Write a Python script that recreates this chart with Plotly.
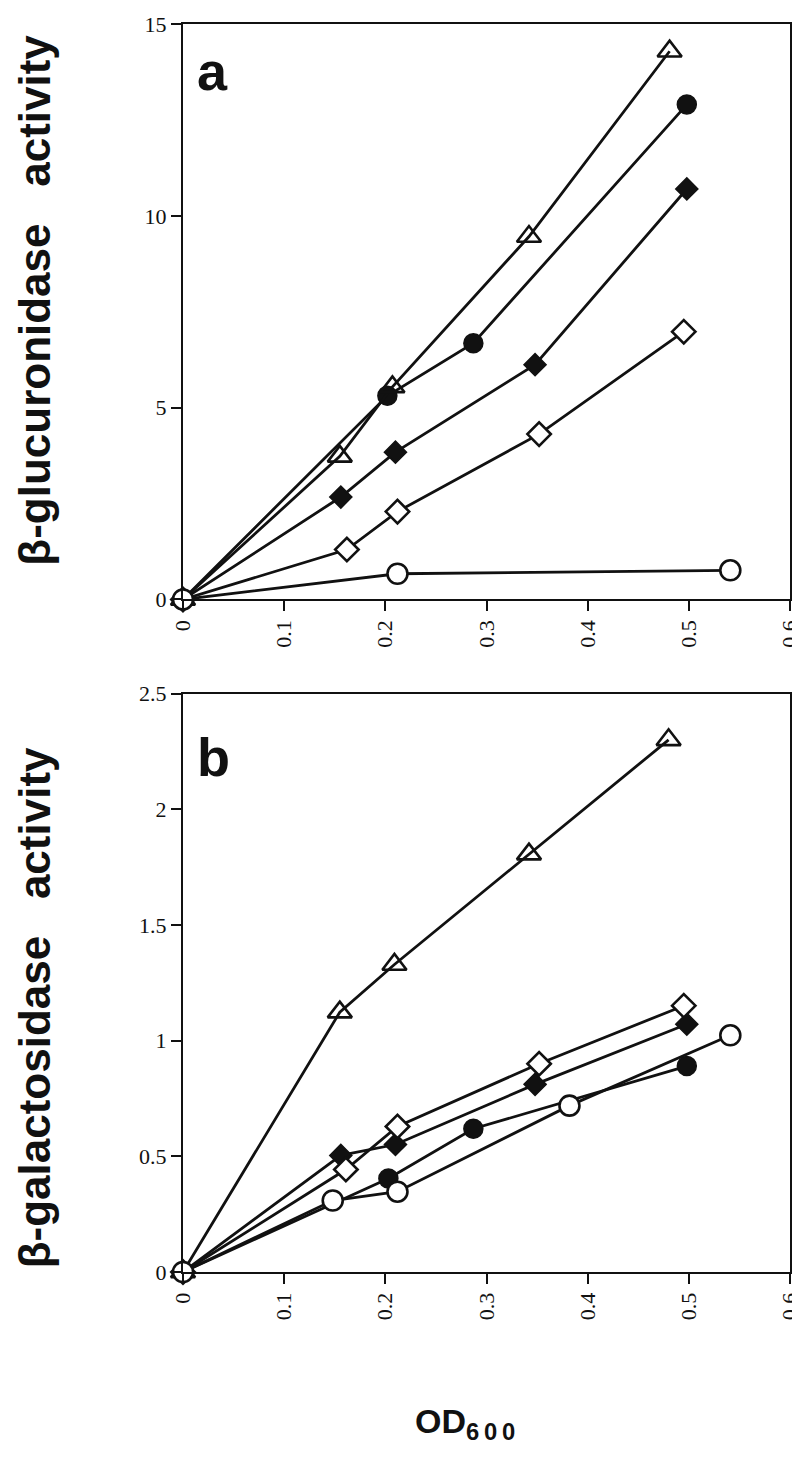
import plotly.graph_objects as go

# ---------------- data ----------------
# Panel a: beta-glucuronidase activity vs OD600
a_tri_x = [0, 0.155, 0.207, 0.342, 0.481]
a_tri_y = [0, 3.73, 5.54, 9.46, 14.29]
a_fcirc_x = [0, 0.202, 0.287, 0.498]
a_fcirc_y = [0, 5.31, 6.68, 12.90]
a_fdia_x = [0, 0.156, 0.210, 0.348, 0.498]
a_fdia_y = [0, 2.67, 3.84, 6.12, 10.70]
a_odia_x = [0, 0.162, 0.212, 0.352, 0.495]
a_odia_y = [0, 1.30, 2.29, 4.31, 6.98]
a_ocirc_x = [0, 0.212, 0.541]
a_ocirc_y = [0, 0.67, 0.76]

# Panel b: beta-galactosidase activity vs OD600
b_tri_x = [0, 0.155, 0.209, 0.342, 0.480]
b_tri_y = [0, 1.123, 1.329, 1.806, 2.30]
b_fcirc_x = [0, 0.203, 0.287, 0.498]
b_fcirc_y = [0, 0.404, 0.619, 0.89]
b_fdia_x = [0, 0.156, 0.210, 0.348, 0.498]
b_fdia_y = [0, 0.504, 0.551, 0.811, 1.071]
b_odia_x = [0, 0.161, 0.212, 0.352, 0.495]
b_odia_y = [0, 0.443, 0.629, 0.90, 1.151]
b_ocirc_x = [0, 0.148, 0.212, 0.382, 0.541]
b_ocirc_y = [0, 0.309, 0.347, 0.719, 1.023]

x_ticks = [0, 0.1, 0.2, 0.3, 0.4, 0.5, 0.6]
x_ticktext = ["0", "0.1", "0.2", "0.3", "0.4", "0.5", "0.6"]
a_ticks = [0, 5, 10, 15]
a_ticktext = ["0", "5", "10", "15"]
b_ticks = [0, 0.5, 1, 1.5, 2, 2.5]
b_ticktext = ["0", "0.5", "1", "1.5", "2", "2.5"]

# ---------------- styling ----------------
BLACK = "#111111"
LW = 2.8
styles = {
    "tri": dict(symbol="triangle-up-open", size=21, color=BLACK, line=dict(width=2.6, color=BLACK)),
    "fcirc": dict(symbol="circle", size=19, color=BLACK, line=dict(width=1.5, color=BLACK)),
    "fdia": dict(symbol="diamond", size=17, color=BLACK, line=dict(width=1.5, color=BLACK)),
    "odia": dict(symbol="diamond", size=18, color="white", line=dict(width=2.6, color=BLACK)),
    "ocirc": dict(symbol="circle", size=20, color="white", line=dict(width=2.6, color=BLACK)),
}

fig = go.Figure()

def add(xs, ys, key, xa, ya):
    fig.add_trace(go.Scatter(
        x=xs, y=ys, mode="lines+markers",
        line=dict(color=BLACK, width=LW),
        marker=styles[key], xaxis=xa, yaxis=ya,
        cliponaxis=False, showlegend=False, hoverinfo="skip"))

for (xs, ys, k) in [(a_fdia_x, a_fdia_y, "fdia"), (a_odia_x, a_odia_y, "odia"),
                    (a_fcirc_x, a_fcirc_y, "fcirc"), (a_tri_x, a_tri_y, "tri"),
                    (a_ocirc_x, a_ocirc_y, "ocirc")]:
    add(xs, ys, k, "x", "y")
for (xs, ys, k) in [(b_tri_x, b_tri_y, "tri"), (b_fcirc_x, b_fcirc_y, "fcirc"),
                    (b_fdia_x, b_fdia_y, "fdia"), (b_odia_x, b_odia_y, "odia"),
                    (b_ocirc_x, b_ocirc_y, "ocirc")]:
    add(xs, ys, k, "x2", "y2")

tickfont = dict(family="Liberation Serif, Times New Roman, serif", size=22, color=BLACK)
axis_common = dict(showline=True, linecolor=BLACK, linewidth=2, mirror=True,
                   ticks="outside", ticklen=10, tickwidth=2, tickcolor=BLACK,
                   showgrid=False, zeroline=False, tickfont=tickfont,
                   ticklabeloverflow="allow")

# figure sits 8px inside the page (default body margin)
fig.update_layout(
    width=800, height=1455,
    margin=dict(l=175, r=18, t=4, b=191),
    paper_bgcolor="white", plot_bgcolor="white",
    xaxis=dict(domain=[0, 1], range=[0, 0.6], anchor="y", tickvals=x_ticks,
               ticktext=x_ticktext, tickangle=-90, **axis_common),
    yaxis=dict(domain=[0.5389, 1], range=[0, 15], anchor="x", tickvals=a_ticks,
               ticktext=a_ticktext, **axis_common),
    xaxis2=dict(domain=[0, 1], range=[0, 0.6], anchor="y2", tickvals=x_ticks,
                ticktext=x_ticktext, tickangle=-90, **axis_common),
    yaxis2=dict(domain=[0, 0.4635], range=[0, 2.5], anchor="x2", tickvals=b_ticks,
                ticktext=b_ticktext, **axis_common),
)

title_font = dict(family="Liberation Sans, Arial, sans-serif", size=44, color=BLACK)
sp = "\u00a0\u00a0\u00a0"
annos = [
    dict(text="<b>β-glucuronidase" + sp + "activity</b>", x=-0.244, y=0.779,
         textangle=-90, font=title_font),
    dict(text="<b>β-galactosidase" + sp + "activity</b>", x=-0.244, y=0.212,
         textangle=-90, font=title_font),
    dict(text="<b>OD<sub>6\u20090\u20090</sub></b>", x=0.465, y=-0.121,
         font=dict(family="Liberation Sans, Arial, sans-serif", size=34, color=BLACK)),
]
for a in annos:
    fig.add_annotation(xref="paper", yref="paper", showarrow=False,
                       xanchor="center", yanchor="middle", **a)

panel_font = dict(family="Liberation Sans, Arial, sans-serif", size=54, color=BLACK)
fig.add_annotation(text="<b>a</b>", xref="x domain", yref="y domain", x=0.02, y=0.918,
                   xanchor="left", yanchor="middle", showarrow=False, font=panel_font)
fig.add_annotation(text="<b>b</b>", xref="x2 domain", yref="y2 domain", x=0.02, y=0.891,
                   xanchor="left", yanchor="middle", showarrow=False, font=panel_font)

fig.write_html("out.html")
